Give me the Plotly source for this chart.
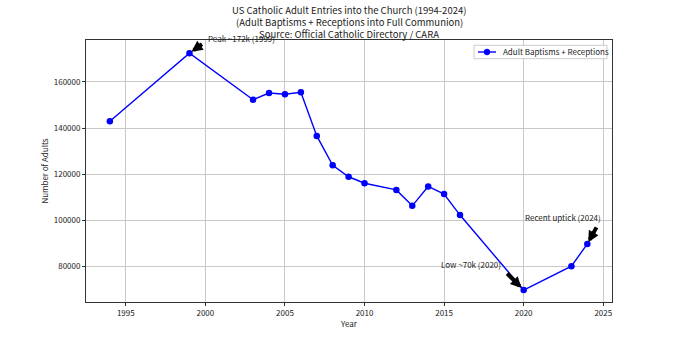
import plotly.graph_objects as go

years = [1994, 1999, 2003, 2004, 2005, 2006, 2007, 2008, 2009, 2010, 2012, 2013, 2014, 2015, 2016, 2020, 2023, 2024]
adults = [143000, 172500, 152300, 155200, 154700, 155500, 136600, 123900, 118900, 116100, 113200, 106300, 114700, 111400, 102300, 69800, 80100, 89800]

title_lines = [
    "US Catholic Adult Entries into the Church (1994-2024)",
    "(Adult Baptisms + Receptions into Full Communion)",
    "Source: Official Catholic Directory / CARA",
]
series_name = "Adult Baptisms + Receptions"
x_ticks = [1995, 2000, 2005, 2010, 2015, 2020, 2025]
y_ticks = [80000, 100000, 120000, 140000, 160000]

FONT = "Noto Sans CJK JP"
TXT = "#222222"
BLUE = "#0000ff"

W, H = 680, 340
ML, MR, MT, MB = 86, 68, 40, 38
PW, PH = W - ML - MR, H - MT - MB


def px_x(p):
    return (p - ML) / PW


def px_y(p):
    return (H - MB - p) / PH


fig = go.Figure()
fig.add_trace(go.Scatter(
    x=years, y=adults, mode="lines+markers", name=series_name,
    line=dict(color=BLUE, width=1.4),
    marker=dict(color=BLUE, size=6.5),
    showlegend=False,
))

anns = []
for i, t in enumerate(title_lines):
    anns.append(dict(text=t, xref="paper", yref="paper", x=0.5, y=1.0,
                     yshift=30 - 12 * i, xanchor="center", yanchor="middle",
                     showarrow=False, font=dict(size=9.5, color=TXT, family=FONT)))

i_peak = adults.index(max(adults))
i_low = adults.index(min(adults))
i_last = len(years) - 1

for idx, axp, ayp, so in [(i_peak, 14, -10, 2.5), (i_low, -18, -18, 3), (i_last, 10, -18, 2)]:
    anns.append(dict(x=years[idx], y=adults[idx], xref="x", yref="y", text="",
                     showarrow=True, ax=axp, ay=ayp, arrowhead=2, arrowsize=0.55,
                     arrowwidth=4, arrowcolor="black", standoff=so))

anns.append(dict(x=years[i_peak], y=adults[i_peak], xref="x", yref="y",
                 text="Peak ~172k (1999)", showarrow=False, xanchor="left", yanchor="middle",
                 xshift=17, yshift=15, font=dict(size=8, color=TXT, family=FONT)))
anns.append(dict(x=years[i_low], y=adults[i_low], xref="x", yref="y",
                 text="Low ~70k (2020)", showarrow=False, xanchor="right", yanchor="middle",
                 xshift=-21, yshift=25.5, font=dict(size=8, color=TXT, family=FONT)))
anns.append(dict(x=years[i_last], y=adults[i_last], xref="x", yref="y",
                 text="Recent uptick (2024)", showarrow=False, xanchor="left", yanchor="middle",
                 xshift=-64, yshift=26, font=dict(size=8, color=TXT, family=FONT)))

leg_y = 52
anns.append(dict(text=series_name, xref="paper", yref="paper", x=px_x(500.5), y=px_y(leg_y),
                 xanchor="left", yanchor="middle", showarrow=False,
                 font=dict(size=8, color=TXT, family=FONT)))
shapes = [
    dict(type="rect", xref="paper", yref="paper", x0=px_x(474), x1=px_x(607),
         y0=px_y(58.7), y1=px_y(45.3), line=dict(color="#cccccc", width=1),
         fillcolor="rgba(255,255,255,0.85)", layer="above"),
    dict(type="line", xref="paper", yref="paper", x0=px_x(478), x1=px_x(496),
         y0=px_y(leg_y), y1=px_y(leg_y), line=dict(color=BLUE, width=1.4), layer="above"),
    dict(type="circle", xref="paper", yref="paper", x0=px_x(484), x1=px_x(490),
         y0=px_y(leg_y + 3), y1=px_y(leg_y - 3), line=dict(color=BLUE, width=0.5),
         fillcolor=BLUE, layer="above"),
]

axis_common = dict(
    showgrid=True, gridcolor="#c8c8c8", gridwidth=1,
    showline=True, linecolor="#333333", linewidth=1, mirror=True,
    ticks="outside", ticklen=3, tickcolor="#333333",
    tickfont=dict(size=8, color=TXT, family=FONT),
    zeroline=False,
)

fig.update_layout(
    width=W, height=H,
    margin=dict(l=ML, r=MR, t=MT, b=MB),
    paper_bgcolor="white", plot_bgcolor="white",
    font=dict(family=FONT, size=8, color=TXT),
    showlegend=False,
    annotations=anns,
    shapes=shapes,
    xaxis=dict(range=[1992.5, 2025.55], tickvals=x_ticks,
               title=dict(text="Year", font=dict(size=8, color=TXT, family=FONT), standoff=4),
               **axis_common),
    yaxis=dict(range=[64600, 178200], tickvals=y_ticks, tickformat="d",
               title=dict(text="Number of Adults", font=dict(size=8, color=TXT, family=FONT), standoff=3),
               **axis_common),
)

fig.write_html("out.html")
